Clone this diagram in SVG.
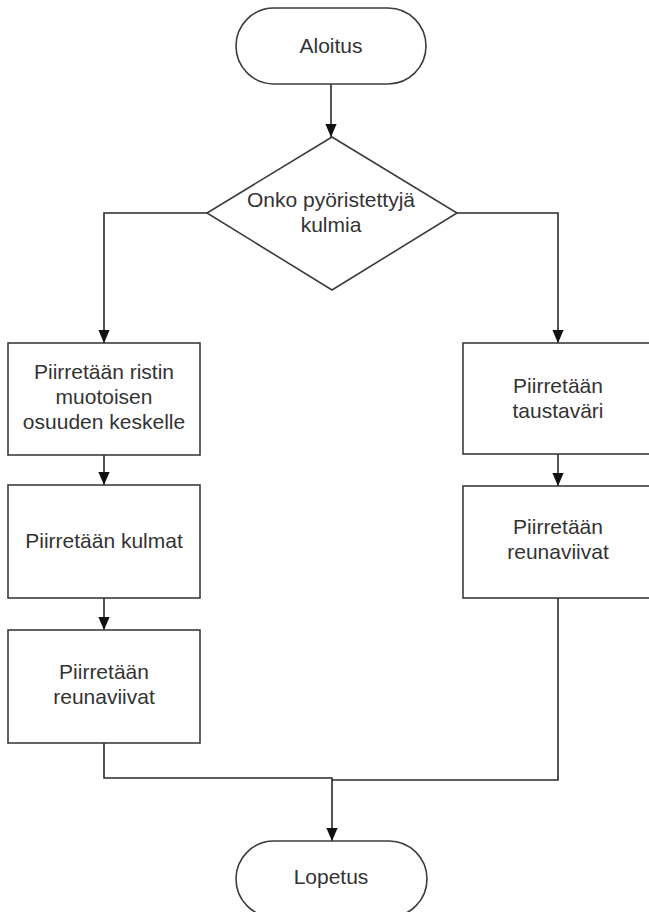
<svg xmlns="http://www.w3.org/2000/svg" width="649" height="912" viewBox="0 0 649 912">
  <style>
    .shape { fill: #ffffff; stroke: #3c3c3c; stroke-width: 1.6; }
    .label { font-family: "Liberation Sans", Arial, sans-serif; font-size: 21px; fill: #333333; text-anchor: middle; }
    .conn { fill: none; stroke: #2a2a2a; stroke-width: 1.6; }
  </style>
  <defs>
    <marker id="arrow" markerUnits="userSpaceOnUse" markerWidth="14" markerHeight="16" refX="15" refY="6.5" orient="auto" viewBox="0 0 16 13">
      <path d="M0,0 L15,6.5 L0,13 Z" fill="#111111"/>
    </marker>
  </defs>
  <rect width="649" height="912" fill="#ffffff"/>

  <g id="connectors">
    <path class="conn" d="M331,84 V137" marker-end="url(#arrow)"/>
    <path class="conn" d="M207,213 H104 V343" marker-end="url(#arrow)"/>
    <path class="conn" d="M457,213 H558 V343" marker-end="url(#arrow)"/>
    <path class="conn" d="M104,455 V485" marker-end="url(#arrow)"/>
    <path class="conn" d="M104,598 V630" marker-end="url(#arrow)"/>
    <path class="conn" d="M558,454 V486" marker-end="url(#arrow)"/>
    <path class="conn" d="M104,743 V778 H332 V841" marker-end="url(#arrow)"/>
    <path class="conn" d="M558,598 V780 H332"/>
  </g>

  <g id="start">
    <rect class="shape" x="236" y="8" width="190" height="76" rx="38" ry="38"/>
    <text class="label" x="331" y="53">Aloitus</text>
  </g>

  <g id="decision">
    <polygon class="shape" points="332,137 457,213 332,290 207,213"/>
    <text class="label" x="331" y="207">Onko pyöristettyjä</text>
    <text class="label" x="331" y="232">kulmia</text>
  </g>

  <g id="left-center">
    <rect class="shape" x="8" y="343" width="192" height="112"/>
    <text class="label" x="104" y="379">Piirretään ristin</text>
    <text class="label" x="104" y="404">muotoisen</text>
    <text class="label" x="104" y="429">osuuden keskelle</text>
  </g>

  <g id="left-corners">
    <rect class="shape" x="8" y="485" width="192" height="113"/>
    <text class="label" x="104" y="548">Piirretään kulmat</text>
  </g>

  <g id="left-borders">
    <rect class="shape" x="8" y="630" width="192" height="113"/>
    <text class="label" x="104" y="679">Piirretään</text>
    <text class="label" x="104" y="704">reunaviivat</text>
  </g>

  <g id="right-background">
    <rect class="shape" x="463" y="343" width="190" height="111"/>
    <text class="label" x="558" y="393">Piirretään</text>
    <text class="label" x="558" y="418">taustaväri</text>
  </g>

  <g id="right-borders">
    <rect class="shape" x="463" y="486" width="190" height="112"/>
    <text class="label" x="558" y="534">Piirretään</text>
    <text class="label" x="558" y="559">reunaviivat</text>
  </g>

  <g id="end">
    <rect class="shape" x="236" y="841" width="191" height="76" rx="38" ry="38"/>
    <text class="label" x="331" y="884">Lopetus</text>
  </g>
</svg>
